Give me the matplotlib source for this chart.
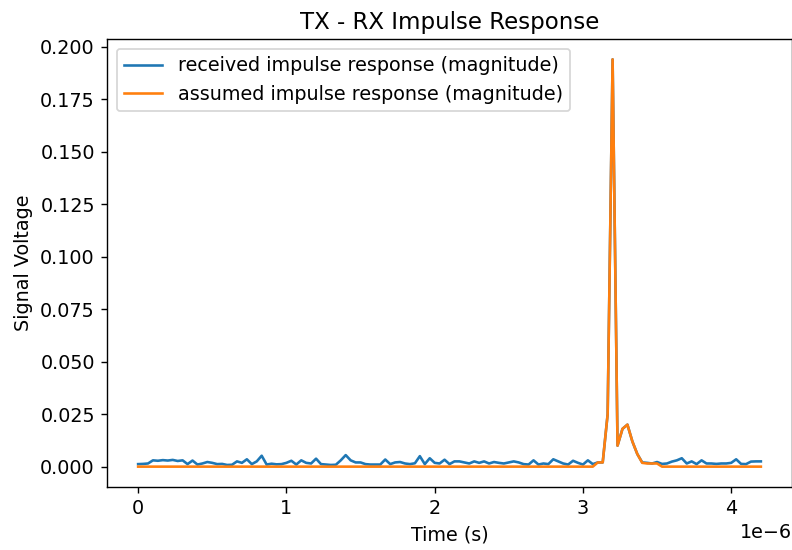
import numpy as np
import matplotlib
matplotlib.use("Agg")
import matplotlib.pyplot as plt

# sample interval (30 MHz sampling)
dt = 1 / 30e6

received = [
    0.0012, 0.0013, 0.0015, 0.0030, 0.0028, 0.0031, 0.0029, 0.0032, 0.0027, 0.0030,
    0.0012, 0.0029, 0.0010, 0.0015, 0.0022, 0.0018, 0.0012, 0.0013, 0.0008, 0.0009,
    0.0025, 0.0018, 0.0035, 0.0012, 0.0025, 0.0052, 0.0010, 0.0014, 0.0011, 0.0012,
    0.0018, 0.0028, 0.0010, 0.0030, 0.0018, 0.0015, 0.0038, 0.0012, 0.0010, 0.0008,
    0.0009, 0.0030, 0.0055, 0.0030, 0.0020, 0.0020, 0.0012, 0.0010, 0.0010, 0.0010,
    0.0034, 0.0012, 0.0020, 0.0022, 0.0015, 0.0012, 0.0016, 0.0050, 0.0012, 0.0040,
    0.0018, 0.0015, 0.0033, 0.0012, 0.0025, 0.0025, 0.0020, 0.0015, 0.0025, 0.0018,
    0.0025, 0.0015, 0.0022, 0.0018, 0.0015, 0.0020, 0.0025, 0.0020, 0.0012, 0.0010,
    0.0030, 0.0010, 0.0015, 0.0012, 0.0035, 0.0025, 0.0015, 0.0010, 0.0028, 0.0018,
    0.0010, 0.0030, 0.0012, 0.0020, 0.0020, 0.0250, 0.1940, 0.0100, 0.0180, 0.0200,
    0.0120, 0.0060, 0.0020, 0.0018, 0.0015, 0.0022, 0.0013, 0.0015, 0.0024, 0.0030,
    0.0040, 0.0015, 0.0025, 0.0012, 0.0030, 0.0015, 0.0015, 0.0013, 0.0015, 0.0015,
    0.0018, 0.0035, 0.0013, 0.0012, 0.0024, 0.0025, 0.0025,
]

assumed = [0.0] * 93 + [
    0.0020, 0.0020, 0.0250, 0.1940, 0.0100, 0.0180, 0.0200,
    0.0120, 0.0060, 0.0018, 0.0015, 0.0015, 0.0015,
] + [0.0] * 21

t = np.arange(len(received)) * dt

plt.rcParams["font.size"] = 11

fig = plt.figure(figsize=(6.336, 4.4), dpi=125)
ax = fig.add_axes([107 / 792, 1 - 487 / 550, 685 / 792, 448 / 550])

ax.plot(t, received, label="received impulse response (magnitude)")
ax.plot(t, assumed, label="assumed impulse response (magnitude)")

ax.set_xlabel("Time (s)")
ax.set_ylabel("Signal Voltage")
ax.set_title("TX - RX Impulse Response")
ax.legend(loc="upper left")

fig.savefig("out.png", dpi=125)
